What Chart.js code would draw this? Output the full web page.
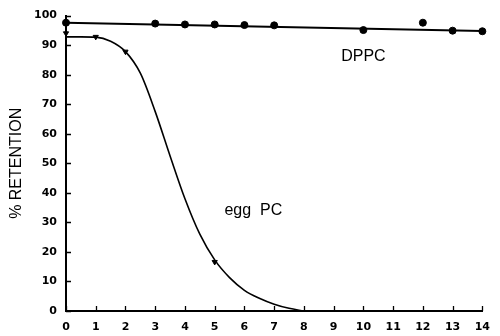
<!DOCTYPE html>
<html>
<head>
<meta charset="utf-8">
<script src="https://cdn.jsdelivr.net/npm/chart.js@4/dist/chart.umd.min.js"></script>
<style>
  html,body{margin:0;padding:0;background:#fff}
  #wrap{width:500px;height:336px;position:relative}
</style>
</head>
<body>
<div id="wrap"><canvas id="myChart"></canvas></div>
<script>
// DPPC measured points
var dppcDays = [0,3,4,5,6,7,10,12,13,14]
var dppcRetention = [97.6,97.3,97,97,96.8,96.7,95.1,97.6,94.9,94.7]
// DPPC fitted line
var dppcFitDays = [0,14]
var dppcFit = [97.6,94.8]
// egg PC measured points
var eggDays = [0,1,2,5]
var eggRetention = [94,92.8,87.8,16.6]
// egg PC fitted curve
var eggCurveDays = [0,0.5,1,1.5,2,2.5,3,3.5,4,4.5,5,5.5,6,6.5,7,7.5,8]
var eggCurve = [92.8,92.8,92.7,91.3,87.8,80.5,67.5,52.5,38,26,17.3,11.3,7,4.3,2.3,0.9,0]

var xTicks = [0,1,2,3,4,5,6,7,8,9,10,11,12,13,14]
var yTicks = [0,10,20,30,40,50,60,70,80,90,100]

var labelTexts = ['DPPC','egg  PC']
var labelX = [10,6.3]
var labelY = [86,34]

function pts(xs,ys){
    var out=[]
    for(var i=0;i<xs.length;i++){ out.push({x:xs[i],y:ys[i]}) }
    return out
}

var tickFont = {family:'DejaVu Sans', size:11, weight:'bold'}

// inward tick marks + text labels
var extras = {
    id:'extras',
    afterDraw:function(chart){
        var ctx=chart.ctx
        var xs=chart.scales.x, ys=chart.scales.y
        var area=chart.chartArea
        ctx.save()
        ctx.strokeStyle='#000'
        ctx.lineWidth=1.3
        ctx.beginPath()
        yTicks.forEach(function(v){
            var p=Math.round(ys.getPixelForValue(v))+0.5
            ctx.moveTo(area.left,p); ctx.lineTo(area.left+5,p)
        })
        xTicks.forEach(function(v){
            var p=Math.round(xs.getPixelForValue(v))+0.5
            ctx.moveTo(p,area.bottom); ctx.lineTo(p,area.bottom-5)
        })
        ctx.stroke()
        ctx.fillStyle='#000'
        ctx.font='16px "Liberation Sans", Arial, sans-serif'
        ctx.textAlign='center'
        ctx.textBaseline='middle'
        for(var i=0;i<labelTexts.length;i++){
            ctx.fillText(labelTexts[i], xs.getPixelForValue(labelX[i]), ys.getPixelForValue(labelY[i]))
        }
        ctx.restore()
    }
}

var chart=new Chart(document.getElementById('myChart').getContext('2d'),{
    type:'scatter',
    data:{
        datasets:[
            {
                label:'DPPC fit',
                data:pts(dppcFitDays,dppcFit),
                showLine:true,
                borderColor:'#000',
                borderWidth:2,
                pointRadius:0,
                clip:false
            },
            {
                label:'DPPC',
                data:pts(dppcDays,dppcRetention),
                showLine:false,
                backgroundColor:'#000',
                borderColor:'#000',
                pointRadius:3.5,
                clip:false
            },
            {
                label:'egg PC fit',
                data:pts(eggCurveDays,eggCurve),
                showLine:true,
                cubicInterpolationMode:'monotone',
                borderColor:'#000',
                borderWidth:1.6,
                pointRadius:0,
                clip:false
            },
            {
                label:'egg PC',
                data:pts(eggDays,eggRetention),
                showLine:false,
                pointStyle:'triangle',
                rotation:180,
                backgroundColor:'#000',
                borderColor:'#000',
                pointRadius:3,
                clip:false
            }
        ]
    },
    options:{
        responsive:true,
        maintainAspectRatio:false,
        animation:false,
        layout:{padding:{top:10,right:14,left:0,bottom:0}},
        plugins:{legend:{display:false},tooltip:{enabled:false}},
        scales:{
            x:{
                type:'linear',
                min:0,max:14,
                afterBuildTicks:function(s){ s.ticks=xTicks.map(function(v){return {value:v}}) },
                afterFit:function(s){ s.height=25 },
                grid:{display:true,drawOnChartArea:false,drawTicks:false},
                border:{display:true,color:'#000',width:2},
                ticks:{color:'#000',font:tickFont,padding:10,maxRotation:0,autoSkip:false}
            },
            y:{
                type:'linear',
                min:0,max:100,
                afterBuildTicks:function(s){ s.ticks=yTicks.map(function(v){return {value:v}}) },
                afterFit:function(s){ s.width=66 },
                grid:{display:true,drawOnChartArea:false,drawTicks:false},
                border:{display:true,color:'#000',width:2},
                ticks:{color:'#000',font:tickFont,padding:9,autoSkip:false},
                title:{
                    display:true,
                    text:'% RETENTION',
                    color:'#000',
                    font:{family:'Liberation Sans',size:16},
                    padding:{top:7,bottom:0}
                }
            }
        }
    },
    plugins:[extras]
})
</script>
</body>
</html>
